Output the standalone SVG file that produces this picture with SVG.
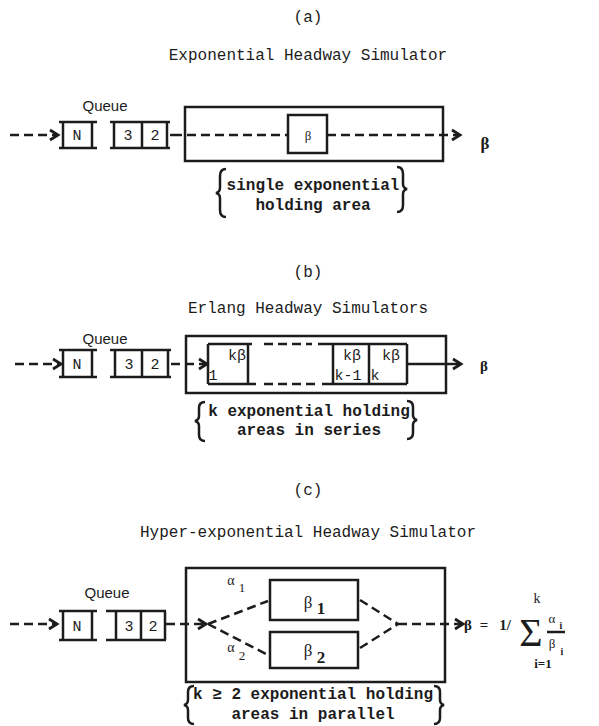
<svg xmlns="http://www.w3.org/2000/svg" width="599" height="726" viewBox="0 0 599 726">
<defs>
<style>
.ln{stroke:#1c1c1c;stroke-width:2.5;fill:none}
.dash{stroke-dasharray:9 5}
.t{font-family:"Liberation Mono",monospace;font-size:16px;fill:#1c1c1c;text-anchor:middle}
.b{font-family:"Liberation Mono",monospace;font-size:16px;font-weight:bold;fill:#1c1c1c;text-anchor:middle}
.q{font-family:"Liberation Sans",sans-serif;font-size:15px;fill:#1c1c1c;text-anchor:middle}
.s{font-family:"Liberation Mono",monospace;font-size:15px;fill:#1c1c1c;text-anchor:middle}
.g{font-family:"Liberation Serif",serif;fill:#1c1c1c;text-anchor:middle}
</style>
<marker id="ah" markerUnits="userSpaceOnUse" markerWidth="14" markerHeight="14" refX="11" refY="7" orient="auto">
<path d="M3,2 L11,7 L3,12" fill="none" stroke="#1c1c1c" stroke-width="2.8"/>
</marker>
</defs>
<rect width="599" height="726" fill="#fff"/>

<!-- (a) -->
<g id="a-titles">
<text class="t" x="308" y="22">(a)</text>
<text class="t" x="308" y="60">Exponential Headway Simulator</text>
</g>
<g id="a-queue">
<text class="q" x="105" y="111">Queue</text>
<path class="ln" d="M59,122 H97 M59,148 H97 M63,122 V148 M92,122 V148"/>
<text class="s" x="77" y="140">N</text>
<path class="ln" d="M110,122 H170 M110,148 H170 M114,122 V148 M142,122 V148 M167,122 V148"/>
<text class="s" x="128" y="140">3</text>
<text class="s" x="155" y="140">2</text>
</g>
<g id="a-sim">
<rect class="ln" x="185" y="107" width="258" height="54"/>
<rect class="ln" x="288" y="115" width="39" height="38"/>
<text class="g" x="308" y="140" font-size="13">β</text>
</g>
<g id="a-label">
<path class="ln" d="M226,169 Q220,169 220,176 V188 Q220,192 216,193 Q220,194 220,198 V210 Q220,217 226,217"/>
<path class="ln" d="M397,167 Q403,167 403,174 V184 Q403,188 407,189 Q403,190 403,194 V205 Q403,212 397,212"/>
<text class="b" x="313" y="190">single exponential</text>
<text class="b" x="313" y="210">holding area</text>
</g>
<g id="a-out">
<text class="g" x="485" y="149" font-size="17" font-weight="bold">β</text>
</g>

<!-- (b) -->
<g id="b-titles">
<text class="t" x="308" y="277">(b)</text>
<text class="t" x="308" y="313">Erlang Headway Simulators</text>
</g>
<g id="b-queue">
<text class="q" x="105" y="344">Queue</text>
<path class="ln" d="M59,350 H97 M59,377 H97 M63,350 V377 M92,350 V377"/>
<text class="s" x="77" y="369">N</text>
<path class="ln" d="M110,350 H171 M110,377 H171 M115,350 V377 M142,350 V377 M168,350 V377"/>
<text class="s" x="129" y="369">3</text>
<text class="s" x="155" y="369">2</text>
</g>
<g id="b-sim">
<rect class="ln" x="186" y="336" width="260" height="57"/>
<path class="ln" d="M208,344 V384 M208,344 H252 M208,384 H256 M248,344 V384"/>
<path class="ln dash" d="M264,344 H312 M264,384 H316"/>
<path class="ln" d="M318,344 H407 M322,384 H407 M333,344 V384 M369,344 V384 M407,344 V384"/>
<text class="s" x="237" y="360">kβ</text>
<text class="s" x="213" y="380">1</text>
<text class="s" x="352" y="360">kβ</text>
<text class="s" x="348" y="380">k-1</text>
<text class="s" x="391" y="360">kβ</text>
<text class="s" x="375" y="380">k</text>
</g>
<g id="b-label">
<path class="ln" d="M205,402 Q199,402 199,408 V416 Q199,420 195,421 Q199,422 199,426 V435 Q199,441 205,441"/>
<path class="ln" d="M407,401 Q413,401 413,407 V415 Q413,419 417,420 Q413,421 413,425 V433 Q413,439 407,439"/>
<text class="b" x="309" y="416">k exponential holding</text>
<text class="b" x="309" y="435">areas in series</text>
</g>
<g id="b-out">
<text class="g" x="484" y="371" font-size="15" font-weight="bold">β</text>
</g>

<!-- (c) -->
<g id="c-titles">
<text class="t" x="308" y="495">(c)</text>
<text class="t" x="308" y="537">Hyper-exponential Headway Simulator</text>
</g>
<g id="c-queue">
<text class="q" x="107" y="598">Queue</text>
<path class="ln" d="M59,611 H97 M59,640 H97 M63,611 V640 M92,611 V640"/>
<text class="s" x="77" y="631">N</text>
<path class="ln" d="M106,611 H166 M106,640 H166 M116,611 V640 M141,611 V640 M165,611 V640"/>
<text class="s" x="129" y="631">3</text>
<text class="s" x="153" y="631">2</text>
</g>
<g id="c-sim">
<rect class="ln" x="186" y="568" width="259" height="114"/>
<rect class="ln" x="270" y="580" width="88" height="40"/>
<rect class="ln" x="270" y="632" width="88" height="36"/>
<text class="g" x="308" y="608" font-size="17">β</text>
<text class="g" x="321" y="614" font-size="17" font-weight="bold">1</text>
<text class="g" x="308" y="656" font-size="17">β</text>
<text class="g" x="321" y="663" font-size="17" font-weight="bold">2</text>
<text class="g" x="231" y="585" font-size="14">α</text>
<text class="g" x="242" y="592" font-size="13">1</text>
<text class="g" x="231" y="652" font-size="14">α</text>
<text class="g" x="242" y="660" font-size="13">2</text>
</g>
<g id="c-label">
<path class="ln" d="M194,686 Q188,686 188,692 V700 Q188,704 184,705 Q188,706 188,710 V718 Q188,724 194,724"/>
<path class="ln" d="M434,686 Q440,686 440,692 V700 Q440,704 444,705 Q440,706 440,710 V718 Q440,724 434,724"/>
<text class="b" x="313" y="699">k ≥ 2 exponential holding</text>
<text class="b" x="313" y="719">areas in parallel</text>
</g>
<g id="c-out">
<text class="g" x="468" y="630" font-size="15" font-weight="bold">β</text>
<text class="g" x="484" y="630" font-size="15" font-weight="bold">=</text>
<text class="g" x="505" y="630" font-size="15" font-weight="bold">1/</text>
<text class="g" x="531" y="646" font-size="40">Σ</text>
<text class="g" x="537" y="603" font-size="14">k</text>
<text class="g" x="543" y="668" font-size="13" font-weight="bold">i=1</text>
<text class="g" x="552" y="623" font-size="13">α</text>
<text class="g" x="561" y="629" font-size="10" font-weight="bold">i</text>
<path class="ln" d="M547,632 H565" stroke-width="1.8"/>
<text class="g" x="552" y="648" font-size="13">β</text>
<text class="g" x="562" y="655" font-size="10" font-weight="bold">i</text>
</g>

<g id="connectors">
<path class="ln dash" d="M10,135 H58" marker-end="url(#ah)"/>
<path class="ln" d="M170,135 H182"/>
<path class="ln dash" d="M187,135 H288"/>
<path class="ln dash" d="M327,135 H460" marker-end="url(#ah)"/>

<path class="ln dash" d="M15,364 H61" marker-end="url(#ah)"/>
<path class="ln dash" d="M171,364 H207" stroke-dasharray="7 4" marker-end="url(#ah)"/>
<path class="ln" d="M407,364 H461" marker-end="url(#ah)"/>

<path class="ln dash" d="M10,624 H57" marker-end="url(#ah)"/>
<path class="ln dash" d="M166,624 H206" stroke-dasharray="7 4" marker-end="url(#ah)"/>
<path class="ln dash" d="M208,624 L268,601 M208,624 L268,655"/>
<path class="ln dash" d="M360,600 L398,624 M360,648 L398,624"/>
<path class="ln dash" d="M398,624 H463" marker-end="url(#ah)"/>
</g>
</svg>
